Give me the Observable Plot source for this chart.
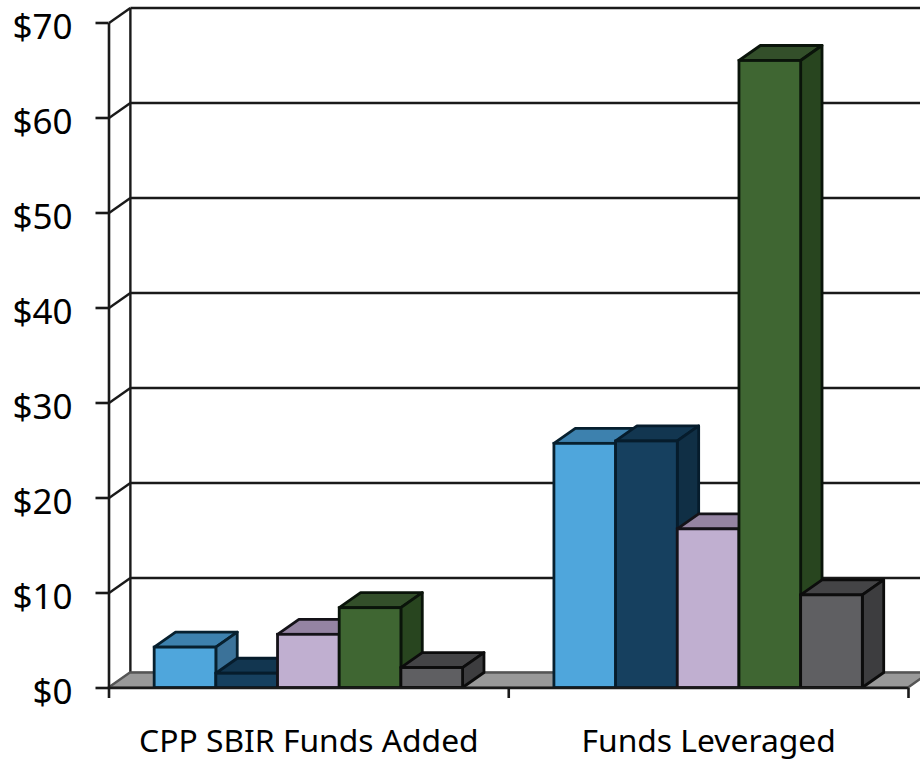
<!DOCTYPE html>
<html>
<head>
<meta charset="utf-8">
<style>html,body{margin:0;padding:0;background:#fff;overflow:hidden}svg{display:block}</style>
<script src="https://cdn.jsdelivr.net/npm/d3@7"></script>
<script src="https://cdn.jsdelivr.net/npm/@observablehq/plot@0.6"></script>
</head>
<body>
<div id="chart"></div>
<script>
const categories = ["CPP SBIR Funds Added", "Funds Leveraged"];
const seriesValues = [
  [4.25, 25.7],
  [1.5, 25.95],
  [5.6, 16.7],
  [8.4, 66.0],
  [2.1, 9.75]
];
const yTicks = [0, 10, 20, 30, 40, 50, 60, 70];
const frontColors = ["#4fa6dc", "#16405f", "#c0afd0", "#3f6632", "#5f5f62"];
const topColors = ["#3d81ae", "#123650", "#9584a3", "#334f2a", "#444446"];
const sideColors = ["#3b7299", "#102f45", "#86769a", "#28451f", "#3d3d3f"];
const strokes = ["#07202f", "#061c2c", "#141218", "#0a140a", "#0c0c0c"];

const barW = 0.1543, gap = (1 - 5 * barW) / 2;
const depthX = 0.0535, depthY = 1.58;
const INK = "#1a1a1a";
const font = "Tahoma, 'Noto Sans', sans-serif";

const face = (pts, fill, stroke, strokeWidth = 2.8) => Plot.area(pts, {x1: "x1", y1: "y1", x2: "x2", y2: "y2", fill, stroke, strokeWidth, strokeLinejoin: "round"});

const bars = [];
categories.forEach((c, g) => {
  seriesValues.forEach((vals, k) => {
    const v = vals[g], a = g + gap + k * barW, b = a + barW;
    bars.push(
      face([{x1: a, y1: v, x2: a + depthX, y2: v + depthY}, {x1: b, y1: v, x2: b + depthX, y2: v + depthY}], topColors[k], strokes[k]),
      face([{x1: b, y1: 0, x2: b + depthX, y2: depthY}, {x1: b, y1: v, x2: b + depthX, y2: v + depthY}], sideColors[k], strokes[k]),
      Plot.rect([{a, b, v}], {x1: "a", x2: "b", y1: () => 0, y2: "v", fill: frontColors[k], stroke: strokes[k], strokeWidth: 2.8})
    );
  });
});

const plot = Plot.plot({
  width: 920,
  height: 762,
  marginLeft: 108.5, marginRight: 12, marginTop: 0, marginBottom: 74,
  style: {fontFamily: font, background: "#fff", color: "#000"},
  x: {domain: [0, 2], range: [108.5, 908]},
  y: {domain: [0, 70], range: [687.5, 22.5]},
  marks: [
    // walls
    Plot.link(yTicks, {x1: () => 0, x2: () => depthX, y1: d => d, y2: d => d + depthY, stroke: INK, strokeWidth: 2.4}),
    Plot.link(yTicks, {x1: () => depthX, x2: () => 2.1, y1: d => d + depthY, y2: d => d + depthY, stroke: INK, strokeWidth: 2.4}),
    Plot.link([0], {x1: () => depthX, x2: () => depthX, y1: () => depthY, y2: () => 70 + depthY, stroke: INK, strokeWidth: 2.4}),
    // floor
    face([{x1: 0, y1: 0, x2: depthX, y2: depthY}, {x1: 2, y1: 0, x2: 2 + depthX, y2: depthY}], "#999999", "#555555", 2.4),
    ...bars,
    Plot.link([0], {x1: () => 0, x2: () => 2, y1: () => 0, y2: () => 0, stroke: INK, strokeWidth: 2.6}),
    Plot.link([0], {x1: () => 0, x2: () => 0, y1: () => 0, y2: () => 70, stroke: INK, strokeWidth: 2.6}),
    Plot.axisY({ticks: yTicks, tickFormat: null, text: null, tickSize: 13, stroke: INK, strokeWidth: 2.6, label: null}),
    Plot.axisY({ticks: yTicks, tickFormat: d => "$" + d, tickSize: 0, tickPadding: 36.5, dy: 5, fontSize: 35, label: null}),
    Plot.axisX({ticks: [0, 1, 2], tickFormat: null, tickSize: 10, stroke: INK, strokeWidth: 2.6, label: null, text: null}),
    Plot.text(categories, {x: (d, i) => i + 0.5, y: () => -5.65, text: d => d, fontSize: 31.8, fill: "#000", textAnchor: "middle"})
  ]
});
document.getElementById("chart").appendChild(plot);
</script>
</body>
</html>
